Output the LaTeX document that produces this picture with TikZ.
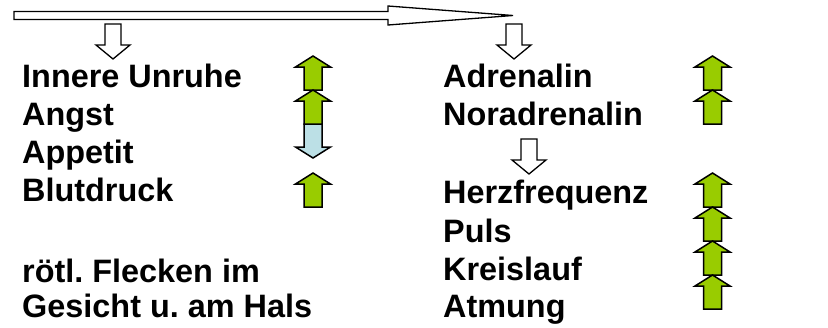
\documentclass[tikz,border=0pt]{standalone}
\usepackage{fontspec}
\setmainfont{Liberation Sans}
\frenchspacing
\begin{document}
\begin{tikzpicture}[x=1pt,y=-1pt,
  label/.style={anchor=base west,inner sep=0pt,font=\bfseries\fontsize{32.4}{38}\selectfont},
  riseup/.style={draw=black,line width=1.5pt,line join=miter},
  fallbox/.style={draw=black,line width=1.5pt,line join=miter},
  hollow/.style={draw=black,line width=1.3pt,fill=white,line join=miter}]
\definecolor{upgreen}{HTML}{99CC00}
\definecolor{downblue}{HTML}{BCE0E6}
\useasboundingbox (0,0) rectangle (828,327);

% block arrow: #1 style, #2 centre x, #3 tail y, #4 length,
% #5 shaft half width, #6 head half width, #7 head length
\newcommand\blockup[7]{%
  \begin{scope}[shift={(#2,#3)}]
    \draw[#1] (-#5,0) -- ({-#5},{-(#4)+(#7)}) -- ({-#6},{-(#4)+(#7)}) -- (0,{-(#4)})
      -- ({#6},{-(#4)+(#7)}) -- ({#5},{-(#4)+(#7)}) -- (#5,0) -- cycle;
  \end{scope}}
\newcommand\blockdown[7]{%
  \begin{scope}[shift={(#2,#3)},yscale=-1]
    \draw[#1] (-#5,0) -- ({-#5},{-(#4)+(#7)}) -- ({-#6},{-(#4)+(#7)}) -- (0,{-(#4)})
      -- ({#6},{-(#4)+(#7)}) -- ({#5},{-(#4)+(#7)}) -- (#5,0) -- cycle;
  \end{scope}}

% long arrow across the top
\draw[hollow] (14,11.5) -- (388,11.5) -- (388,6) -- (513,15.5) -- (388,25) -- (388,19.5) -- (14,19.5) -- cycle;

% hollow down arrows
\blockdown{hollow}{113}{24}{35}{8}{17}{14}
\blockdown{hollow}{514}{24}{35}{8}{17}{14}
\blockdown{hollow}{529}{139}{35}{8}{17}{14}

% left column texts
\node[label] (unruhe)  at (22,87)  {Innere Unruhe};
\node[label] (angst)   at (22,125) {Angst};
\node[label] (appetit) at (22,163) {Appetit};
\node[label] (blut)    at (22,201) {Blutdruck};
\node[label] (flecken) at (22,282) {rötl. Flecken im};
\node[label] (gesicht) at (22,317) {Gesicht u. am Hals};

% right column texts
\node[label] (adr)     at (443,87)  {Adrenalin};
\node[label] (noradr)  at (443,125) {Noradrenalin};
\node[label] (herz)    at (443,203) {Herzfrequenz};
\node[label] (puls)    at (443,242) {Puls};
\node[label] (kreis)   at (443,280) {Kreislauf};
\node[label] (atmung)  at (443,317) {Atmung};

% left column trend arrows
\tikzset{riseup/.append style={fill=upgreen},fallbox/.append style={fill=downblue}}
\blockdown{fallbox}{313}{124}{34}{9}{17.5}{11}
\blockup{riseup}{313}{90}{34}{9}{17.5}{11}
\blockup{riseup}{313}{124}{34}{9}{17.5}{11}
\blockup{riseup}{313}{207}{34}{9}{17.5}{11}

% right column trend arrows
\blockup{riseup}{712.5}{90}{34}{9}{17.5}{11}
\blockup{riseup}{712.5}{124}{34}{9}{17.5}{11}
\blockup{riseup}{712.5}{207}{34}{9}{17.5}{11}
\blockup{riseup}{712.5}{241}{34}{9}{17.5}{11}
\blockup{riseup}{712.5}{275}{34}{9}{17.5}{11}
\blockup{riseup}{712.5}{309}{34}{9}{17.5}{11}
\end{tikzpicture}
\end{document}
